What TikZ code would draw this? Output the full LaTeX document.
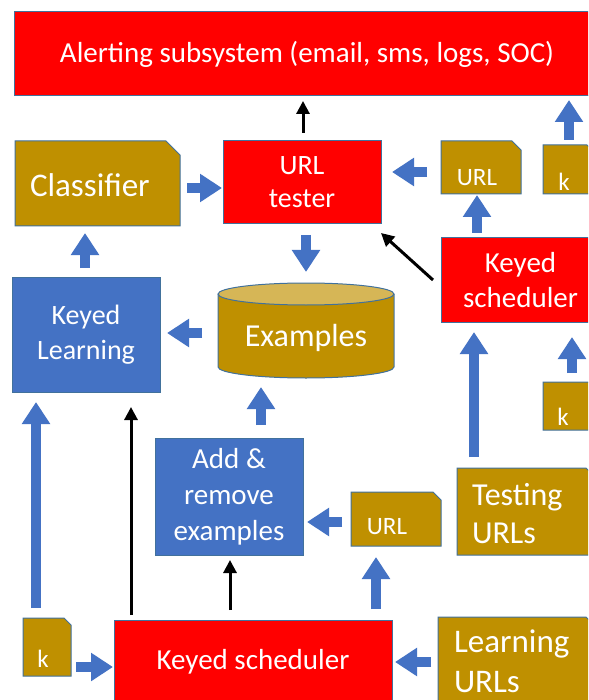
\documentclass[tikz,border=0pt]{standalone}
\usepackage{fontspec}
\setmainfont{Carlito}
\usetikzlibrary{arrows.meta}
\definecolor{cred}{HTML}{FF0000}
\definecolor{cblue}{HTML}{4472C4}
\definecolor{cgold}{HTML}{BF9000}
\definecolor{cgoldtop}{HTML}{D6B656}
\definecolor{cborder}{HTML}{41719C}
\tikzset{
  border/.style={draw=cborder, line width=1pt},
  redbox/.style={border, fill=cred, text=white, inner sep=0pt, outer sep=0pt, align=center},
  bluebox/.style={border, fill=cblue, text=white, inner sep=0pt, outer sep=0pt, align=center},
  area/.style={draw=none, inner sep=0pt, outer sep=0pt},
  docfill/.style={border, fill=cgold},
  txt/.style={text=white, inner sep=0pt, outer sep=0pt},
  barrow/.style={draw=cblue, line width=10pt, -{Triangle[length=22pt,width=27pt]}},
  karrow/.style={draw=black, line width=3pt, -{Triangle[length=13pt,width=13pt]}},
}
\newcommand\fsz[2]{\fontsize{#1}{#2}\selectfont}
\begin{document}
\begin{tikzpicture}[x=1pt,y=-1pt]
\useasboundingbox (0,0) rectangle (588,700);
\clip (0,0) rectangle (588,700);
\fill[white] (0,0) rectangle (588,700);

% rectangular boxes
\node[redbox, minimum width=586pt, minimum height=84pt, font=\fsz{29}{35}] (alert) at (307,54) {Alerting subsystem (email, sms, logs, SOC)};
\node[redbox, minimum width=158pt, minimum height=83pt, font=\fsz{28}{33}] (tester) at (302,182.5) {URL\\tester};
\node[redbox, minimum width=159pt, minimum height=84pt, font=\fsz{29}{35}] (ksR) at (520.5,280) {Keyed\\scheduler};
\node[bluebox, minimum width=148pt, minimum height=115pt, font=\fsz{28}{35}] (kl) at (86,334.5) {Keyed\\Learning};
\node[bluebox, minimum width=148pt, minimum height=117pt, font=\fsz{29}{36}] (add) at (229,496.5) {Add \&\\remove\\examples};
\node[redbox, minimum width=278pt, minimum height=84pt, font=\fsz{29}{35}] (ksB) at (253,662) {Keyed scheduler};

% document shapes
\path[docfill] (15,141) -- (166,141) -- (180,155) -- (180,226) -- (15,226) -- cycle;
\node[area, minimum width=165pt, minimum height=85pt] (cls) at (97.5,183.5) {};
\node[txt, anchor=west, font=\fsz{33}{40}] (clst) at (30,185) {Classifier};

\path[docfill] (441,141) -- (512,141) -- (521,150) -- (521,194) -- (441,194) -- cycle;
\node[area, minimum width=80pt, minimum height=53pt] (url1) at (481,167.5) {};
\node[txt, font=\fsz{25}{30}] (url1t) at (477,178) {URL};

\path[docfill] (543,145) -- (587,145) -- (595,153) -- (595,194) -- (543,194) -- cycle;
\node[area, minimum width=52pt, minimum height=49pt] (k1) at (569,169.5) {};
\node[txt, font=\fsz{25}{30}] (k1t) at (564,182) {k};

\path[docfill] (543,382) -- (593,382) -- (601,390) -- (601,430) -- (543,430) -- cycle;
\node[area, minimum width=58pt, minimum height=48pt] (k2) at (572,406) {};
\node[txt, font=\fsz{25}{30}] (k2t) at (563,417) {k};

\path[docfill] (351,492) -- (433,492) -- (441,500) -- (441,546) -- (351,546) -- cycle;
\node[area, minimum width=90pt, minimum height=54pt] (url2) at (396,519) {};
\node[txt, font=\fsz{25}{30}] (url2t) at (387,527) {URL};

\path[docfill] (457,468) -- (586,468) -- (600,482) -- (600,555) -- (457,555) -- cycle;
\node[area, minimum width=143pt, minimum height=87pt] (test) at (528.5,511.5) {};
\node[txt, anchor=west, align=left, font=\fsz{32}{38}] (testt) at (472,514) {Testing\\URLs};

\path[docfill] (23,618) -- (64,618) -- (71,625) -- (71,676) -- (23,676) -- cycle;
\node[area, minimum width=48pt, minimum height=58pt] (k3) at (47,647) {};
\node[txt, font=\fsz{25}{30}] (k3t) at (43,659) {k};

\path[docfill] (438,617) -- (586,617) -- (600,631) -- (600,720) -- (438,720) -- cycle;
\node[area, minimum width=162pt, minimum height=93pt] (learn) at (519,663.5) {};
\node[txt, anchor=west, align=left, font=\fsz{33}{40}] (learnt) at (454,661) {Learning\\URLs};

% cylinder
\fill[cgold] (218,294) rectangle (394,367);
\fill[cgold] (306,367) ellipse [x radius=88, y radius=11];
\draw[border] (218,294) -- (218,367) arc[start angle=180, end angle=0, x radius=88, y radius=11] -- (394,294);
\filldraw[border, fill=cgoldtop] (306,294) ellipse [x radius=88, y radius=11];
\node[area, minimum width=176pt, minimum height=95pt] (ex) at (306,330.5) {};
\node[txt, font=\fsz{32}{38}] (ext) at (306,338) {Examples};

% blue block arrows
\draw[barrow] ([shift={(7,4.5)}]cls.east) -- ([shift={(-1,5.5)}]tester.west);
\draw[barrow] ([shift={(-14,4.5)}]url1.west) -- ([shift={(11,-10.5)}]tester.east);
\draw[barrow, shorten <=5pt, shorten >=4pt] (k1.north) -- (k1.north |- alert.south);
\draw[barrow] ([shift={(36,-5)}]ksR.north west) -- ([shift={(36,1)}]url1.south west);
\draw[barrow] ([shift={(-1,-9)}]kl.north) -- ([shift={(-12.5,7)}]cls.south);
\draw[barrow] ([shift={(4,11)}]tester.south) -- ([shift={(0,-11)}]ex.north);
\draw[barrow] ([shift={(-16,2.5)}]ex.west) -- ([shift={(7,-1.5)}]kl.east);
\draw[barrow] ([shift={(17,-11)}]test.north west) -- ([shift={(33,10)}]ksR.south west);
\draw[barrow] ([shift={(0,-9)}]k2.north) -- ([shift={(51.5,15)}]ksR.south);
\draw[barrow] ([shift={(32,-13)}]add.north) -- ([shift={(-45,9)}]ex.south);
\draw[barrow] ([shift={(-11,-10)}]k3.north) -- ([shift={(-50,10)}]kl.south);
\draw[barrow] ([shift={(-9,3)}]url2.west) -- ([shift={(4,25.5)}]add.east);
\draw[barrow] ([shift={(123,-11)}]ksB.north) -- ([shift={(-20,11)}]url2.south);
\draw[barrow] ([shift={(5,20)}]k3.east) -- ([shift={(-1,5)}]ksB.west);
\draw[barrow] ([shift={(-7,-1.5)}]learn.west) -- ([shift={(3,0)}]ksB.east);

% black arrows
\draw[karrow] ([shift={(1,-8)}]tester.north) -- ([shift={(-4,5)}]alert.south);
\draw[karrow] ([shift={(-8,0)}]ksR.west) -- ([shift={(0,9)}]tester.south east);
\draw[karrow] ([shift={(17,-5)}]ksB.north west) -- ([shift={(45,15)}]kl.south);
\draw[karrow] ([shift={(116,-10)}]ksB.north west) -- ([shift={(1,5)}]add.south);
\end{tikzpicture}
\end{document}
